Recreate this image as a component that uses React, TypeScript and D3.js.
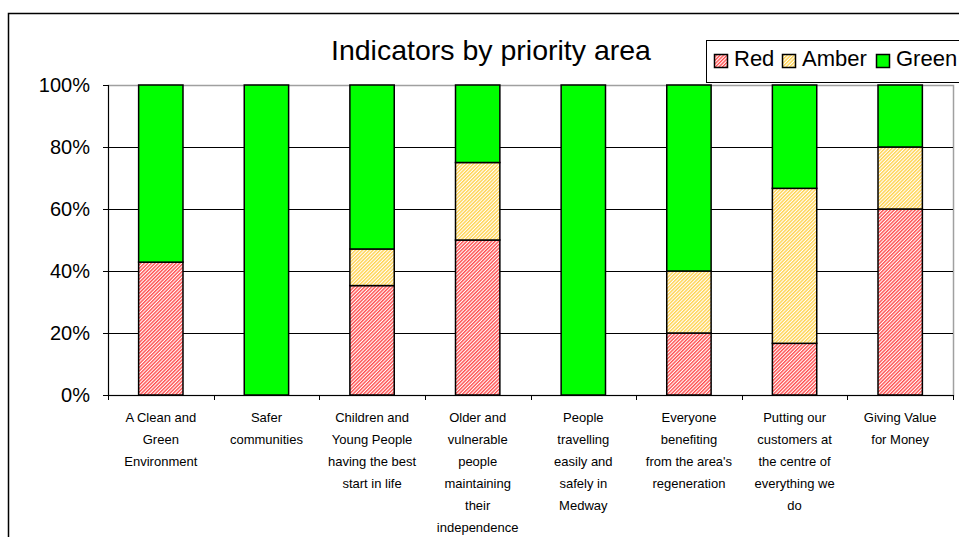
import React, { useRef, useEffect } from 'react';
import * as d3 from 'd3';

const categories = [
  ['A Clean and', 'Green', 'Environment'],
  ['Safer', 'communities'],
  ['Children and', 'Young People', 'having the best', 'start in life'],
  ['Older and', 'vulnerable', 'people', 'maintaining', 'their', 'independence'],
  ['People', 'travelling', 'easily and', 'safely in', 'Medway'],
  ['Everyone', 'benefiting', "from the area's", 'regeneration'],
  ['Putting our', 'customers at', 'the centre of', 'everything we', 'do'],
  ['Giving Value', 'for Money'],
];
const redValues = [0.4286, 0, 0.353, 0.5, 0, 0.2, 0.1667, 0.6];
const amberValues = [0, 0, 0.118, 0.25, 0, 0.2, 0.5, 0.2];
const greenValues = [0.5714, 1, 0.529, 0.25, 1, 0.6, 0.3333, 0.2];
const seriesNames = ['Red', 'Amber', 'Green'];
const yTicks = [0, 0.2, 0.4, 0.6, 0.8, 1];

const W = 959;
const H = 537;
const margin = { left: 108, right: 6, top: 85, bottom: 142 };
const FONT = 'Arial, "Liberation Sans", sans-serif';

export default function App() {
  const svgRef = useRef<SVGSVGElement>(null);

  useEffect(() => {
    if (!svgRef.current) return;
    const svg = d3.select(svgRef.current);
    svg.selectAll('*').remove();

    // hatch patterns
    const defs = svg.append('defs');
    const hatch = (id: string, bg: string, fg: string) => {
      const p = defs.append('pattern')
        .attr('id', id)
        .attr('patternUnits', 'userSpaceOnUse')
        .attr('width', 2.5)
        .attr('height', 2.5)
        .attr('patternTransform', 'rotate(45)');
      p.append('rect').attr('width', 2.5).attr('height', 2.5).attr('fill', bg);
      p.append('rect').attr('width', 1.4).attr('height', 2.5).attr('fill', fg);
    };
    hatch('hatch-red', '#ffffff', '#ff4d4d');
    hatch('hatch-amber', '#ffffff', '#ffd24d');
    const fills = ['url(#hatch-red)', 'url(#hatch-amber)', '#00ff00'];

    const x0 = margin.left;
    const x1 = W - margin.right;
    const y0 = margin.top;
    const y1 = H - margin.bottom;

    const x = d3.scaleBand<number>()
      .domain(d3.range(categories.length))
      .range([x0, x1])
      .paddingInner(0.58)
      .paddingOuter(0.29);
    const y = d3.scaleLinear().domain([0, 1]).range([y1, y0]);

    // outer chart border
    svg.append('path')
      .attr('d', `M8.5,${H} L8.5,13.5 L${W},13.5`)
      .attr('fill', 'none')
      .attr('stroke', '#000')
      .attr('stroke-width', 1.5);

    // plot area border (grey)
    svg.append('rect')
      .attr('x', x0 + 0.5).attr('y', y0 + 0.5)
      .attr('width', x1 - x0).attr('height', y1 - y0)
      .attr('fill', '#fff')
      .attr('stroke', '#a0a0a0')
      .attr('stroke-width', 1.5);

    // gridlines
    svg.append('g')
      .selectAll('line')
      .data(yTicks.filter((t) => t > 0 && t < 1))
      .join('line')
      .attr('x1', x0).attr('x2', x1)
      .attr('y1', (d) => Math.round(y(d)) + 0.5)
      .attr('y2', (d) => Math.round(y(d)) + 0.5)
      .attr('stroke', '#000')
      .attr('stroke-width', 1);

    // stacked bars
    const stackData = categories.map((_, i) => ({
      i,
      Red: redValues[i],
      Amber: amberValues[i],
      Green: greenValues[i],
    }));
    const stacked = d3.stack<any>().keys(seriesNames)(stackData);
    stacked.forEach((layer, si) => {
      svg.append('g')
        .selectAll('rect')
        .data(layer.filter((d) => d[1] - d[0] > 0))
        .join('rect')
        .attr('x', (d) => x(d.data.i)!)
        .attr('width', x.bandwidth())
        .attr('y', (d) => y(d[1]))
        .attr('height', (d) => y(d[0]) - y(d[1]))
        .attr('fill', fills[si])
        .attr('stroke', '#000')
        .attr('stroke-width', 1.5);
    });

    // y axis
    const yAxis = svg.append('g');
    yAxis.append('line')
      .attr('x1', x0 + 0.5).attr('x2', x0 + 0.5)
      .attr('y1', y0).attr('y2', y1)
      .attr('stroke', '#000');
    yAxis.selectAll('line.tick')
      .data(yTicks)
      .join('line')
      .attr('class', 'tick')
      .attr('x1', x0 - 5).attr('x2', x0)
      .attr('y1', (d) => Math.round(y(d)) + 0.5)
      .attr('y2', (d) => Math.round(y(d)) + 0.5)
      .attr('stroke', '#000');
    yAxis.selectAll('text')
      .data(yTicks)
      .join('text')
      .attr('x', x0 - 18)
      .attr('y', (d) => y(d) + 7)
      .attr('text-anchor', 'end')
      .attr('font-family', FONT)
      .attr('font-size', 20)
      .text((d) => d3.format('.0%')(d));

    // x axis
    const xAxis = svg.append('g');
    xAxis.append('line')
      .attr('x1', x0).attr('x2', x1)
      .attr('y1', y1 + 0.5).attr('y2', y1 + 0.5)
      .attr('stroke', '#000');
    const step = (x1 - x0) / categories.length;
    xAxis.selectAll('line.tick')
      .data(d3.range(categories.length + 1))
      .join('line')
      .attr('class', 'tick')
      .attr('x1', (d) => Math.round(x0 + d * step) + 0.5)
      .attr('x2', (d) => Math.round(x0 + d * step) + 0.5)
      .attr('y1', y1).attr('y2', y1 + 5)
      .attr('stroke', '#000');
    const labels = xAxis.selectAll('text')
      .data(categories)
      .join('text')
      .attr('text-anchor', 'middle')
      .attr('font-family', FONT)
      .attr('font-size', 13)
      .attr('fill', '#000');
    labels.each(function (lines, i) {
      const cx = x(i)! + x.bandwidth() / 2;
      d3.select(this)
        .selectAll('tspan')
        .data(lines)
        .join('tspan')
        .attr('x', cx)
        .attr('y', (_, k) => y1 + 27 + k * 22)
        .text((t) => t);
    });

    // title
    svg.append('text')
      .attr('x', 491)
      .attr('y', 60)
      .attr('text-anchor', 'middle')
      .attr('font-family', FONT)
      .attr('font-size', 28.5)
      .text('Indicators by priority area');

    // legend
    const lg = svg.append('g');
    lg.append('rect')
      .attr('x', 706.5).attr('y', 40.5)
      .attr('width', 270).attr('height', 42)
      .attr('fill', '#fff')
      .attr('stroke', '#000');
    const legendX = [714, 782, 876];
    seriesNames.forEach((name, i) => {
      lg.append('rect')
        .attr('x', legendX[i] + 0.5).attr('y', 54.5)
        .attr('width', 13).attr('height', 13)
        .attr('fill', fills[i])
        .attr('stroke', '#000')
        .attr('stroke-width', 1.5);
      lg.append('text')
        .attr('x', legendX[i] + 20)
        .attr('y', 66)
        .attr('font-family', FONT)
        .attr('font-size', 22)
        .text(name);
    });
  }, []);

  return (
    <svg
      ref={svgRef}
      width={W}
      height={H}
      style={{ position: 'absolute', left: 0, top: 0, background: '#fff' }}
    />
  );
}
